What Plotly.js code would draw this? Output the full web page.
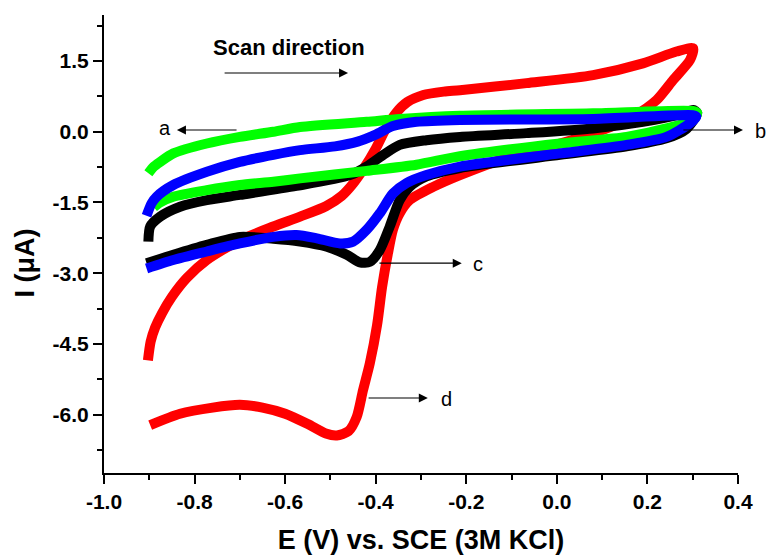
<!DOCTYPE html>
<html>
<head>
<meta charset="utf-8">
<script src="https://cdn.plot.ly/plotly-3.0.1.min.js"></script>
<style>html,body{margin:0;padding:0;background:#fff;}#chart{width:768px;height:557px;}</style>
</head>
<body>
<div id="chart"></div>
<script>
// Curve a (green)
const aX = [-0.902,-0.89,-0.876,-0.847,-0.773,-0.700,-0.626,-0.567,-0.42,-0.347,-0.214,0.08,0.30,0.31,
            0.301,0.242,0.154,0.007,-0.214,-0.31,-0.42,-0.567,-0.626,-0.700,-0.773,-0.847,-0.876,-0.89];
const aY = [-0.88,-0.74,-0.64,-0.46,-0.25,-0.11,0.0,0.10,0.21,0.27,0.34,0.39,0.44,0.40,
            0.25,0.07,-0.11,-0.25,-0.52,-0.70,-0.83,-0.99,-1.06,-1.13,-1.24,-1.38,-1.50,-1.60];
// Curve b (blue)
const bX = [-0.906,-0.895,-0.884,-0.847,-0.773,-0.700,-0.626,-0.567,-0.49,-0.44,-0.40,-0.362,-0.31,-0.214,0.08,0.30,0.308,
            0.294,0.242,0.154,0.007,-0.214,-0.288,-0.332,-0.362,-0.391,-0.420,-0.450,-0.479,-0.530,-0.575,-0.626,-0.700,-0.773,-0.847,-0.906];
const bY = [-1.78,-1.52,-1.38,-1.13,-0.85,-0.64,-0.49,-0.39,-0.31,-0.21,-0.06,0.12,0.21,0.25,0.27,0.35,0.32,
            0.18,-0.11,-0.28,-0.46,-0.74,-0.92,-1.09,-1.31,-1.73,-2.08,-2.33,-2.37,-2.26,-2.19,-2.23,-2.37,-2.54,-2.72,-2.90];
// Curve c (black)
const cX = [-0.902,-0.898,-0.876,-0.832,-0.773,-0.700,-0.575,-0.457,-0.420,-0.383,-0.347,-0.288,-0.214,-0.067,0.08,0.19,0.27,0.301,0.31,
            0.285,0.242,0.154,0.007,-0.214,-0.288,-0.325,-0.347,-0.369,-0.391,-0.413,-0.435,-0.464,-0.508,-0.567,-0.626,-0.700,-0.773,-0.847,-0.906];
const cY = [-2.33,-2.01,-1.80,-1.59,-1.45,-1.34,-1.15,-0.92,-0.74,-0.49,-0.28,-0.18,-0.11,-0.03,0.07,0.21,0.36,0.46,0.40,
            0.05,-0.14,-0.31,-0.49,-0.77,-0.95,-1.17,-1.45,-2.01,-2.51,-2.76,-2.77,-2.61,-2.44,-2.33,-2.27,-2.23,-2.40,-2.61,-2.79];
// Curve d (red)
const dX = [-0.903,-0.897,-0.887,-0.872,-0.850,-0.817,-0.773,-0.700,-0.626,-0.567,-0.510,-0.475,-0.450,-0.425,-0.400,-0.380,-0.355,-0.330,-0.295,-0.250,-0.214,-0.067,0.080,0.190,0.264,0.301,
            0.294,0.257,0.220,0.168,0.102,0.007,-0.104,-0.214,-0.273,-0.325,-0.347,-0.362,-0.373,-0.386,-0.397,-0.413,-0.428,-0.442,-0.460,-0.486,-0.510,-0.550,-0.600,-0.650,-0.700,-0.760,-0.832,-0.898];
const dY = [-4.85,-4.45,-4.15,-3.85,-3.50,-3.10,-2.72,-2.30,-2.01,-1.80,-1.58,-1.36,-1.10,-0.76,-0.36,0.02,0.40,0.63,0.78,0.85,0.88,1.03,1.20,1.45,1.70,1.77,
            1.52,1.10,0.67,0.32,0.04,-0.25,-0.53,-0.92,-1.17,-1.45,-1.73,-2.08,-2.58,-3.30,-4.10,-4.91,-5.48,-6.05,-6.35,-6.44,-6.40,-6.20,-5.98,-5.85,-5.79,-5.85,-5.98,-6.22];

const xTickVals = [-1.0,-0.8,-0.6,-0.4,-0.2,0.0,0.2,0.4];
const xTickText = ['-1.0','-0.8','-0.6','-0.4','-0.2','0.0','0.2','0.4'];
const yTickVals = [-6.0,-4.5,-3.0,-1.5,0.0,1.5];
const yTickText = ['-6.0','-4.5','-3.0','-1.5','0.0','1.5'];

const curveLine = (c) => ({color: c, width: 10, shape: 'spline', smoothing: 0.7});
const traces = [
  {x: dX, y: dY, mode: 'lines', line: curveLine('#ff0000'), name: 'd'},
  {x: cX, y: cY, mode: 'lines', line: curveLine('#000000'), name: 'c'},
  {x: aX, y: aY, mode: 'lines', line: curveLine('#00ff00'), name: 'a'},
  {x: bX, y: bY, mode: 'lines', line: curveLine('#0000ff'), name: 'b'}
];

const bold = {family: 'Liberation Sans, Arial, sans-serif', color: '#000', weight: 'bold'};
const reg = {family: 'Liberation Sans, Arial, sans-serif', color: '#000', size: 20};
function arrow(x0, y0, x1, y1) {
  return {x: x1, y: y1, ax: x0, ay: y0, xref: 'x', yref: 'y', axref: 'x', ayref: 'y',
          text: '', showarrow: true, arrowhead: 2, arrowsize: 1.5, arrowwidth: 1.2, arrowcolor: '#000', standoff: 0, startstandoff: 0};
}
function label(t, x, y) {
  return {x: x, y: y, xref: 'x', yref: 'y', text: t, showarrow: false, font: reg, xanchor: 'center', yanchor: 'middle'};
}
const annotations = [
  {x: -0.592, y: 1.78, xref: 'x', yref: 'y', text: 'Scan direction', showarrow: false,
   font: Object.assign({}, bold, {size: 22}), xanchor: 'center', yanchor: 'middle'},
  arrow(-0.737, 1.245, -0.461, 1.245),
  label('a', -0.865, 0.07),
  arrow(-0.704, 0.036, -0.839, 0.036),
  {x: 1.036, y: 0.747, xref: 'paper', yref: 'paper', text: 'b', showarrow: false, font: reg, xanchor: 'center', yanchor: 'middle'},
  arrow(0.276, 0.036, 0.411, 0.036),
  label('c', -0.174, -2.80),
  arrow(-0.395, -2.787, -0.210, -2.787),
  label('d', -0.243, -5.66),
  arrow(-0.419, -5.647, -0.285, -5.647),
  {x: -0.124, y: 0.4585, xref: 'paper', yref: 'paper', text: 'I (\u03bcA)', textangle: -90, showarrow: false,
   font: Object.assign({}, bold, {size: 27}), xanchor: 'center', yanchor: 'middle'}
];

const layout = {
  width: 768, height: 557,
  margin: {l: 104, r: 30, t: 15, b: 84},
  paper_bgcolor: '#fff', plot_bgcolor: '#fff',
  showlegend: false,
  xaxis: {
    range: [-1.0, 0.4], showgrid: false, zeroline: false,
    showline: true, linecolor: '#000', linewidth: 2,
    ticks: 'outside', ticklen: 9, tickwidth: 2, tickcolor: '#000',
    tickvals: xTickVals, ticktext: xTickText,
    tickfont: Object.assign({}, bold, {size: 21}),
    minor: {dtick: 0.1, tick0: 0, ticks: 'outside', ticklen: 5, tickwidth: 2, tickcolor: '#000'},
    title: {text: 'E (V) vs. SCE (3M KCl)', font: Object.assign({}, bold, {size: 27}), standoff: 18}
  },
  yaxis: {
    range: [-7.237, 2.475], showgrid: false, zeroline: false,
    showline: true, linecolor: '#000', linewidth: 2,
    ticks: 'outside', ticklen: 9, tickwidth: 2, tickcolor: '#000',
    tickvals: yTickVals, ticktext: yTickText,
    tickfont: Object.assign({}, bold, {size: 21}),
    minor: {dtick: 0.75, tick0: 0, ticks: 'outside', ticklen: 5, tickwidth: 2, tickcolor: '#000'}
  },
  annotations: annotations
};

Plotly.newPlot('chart', traces, layout, {displayModeBar: false, staticPlot: true});
</script>
</body>
</html>
